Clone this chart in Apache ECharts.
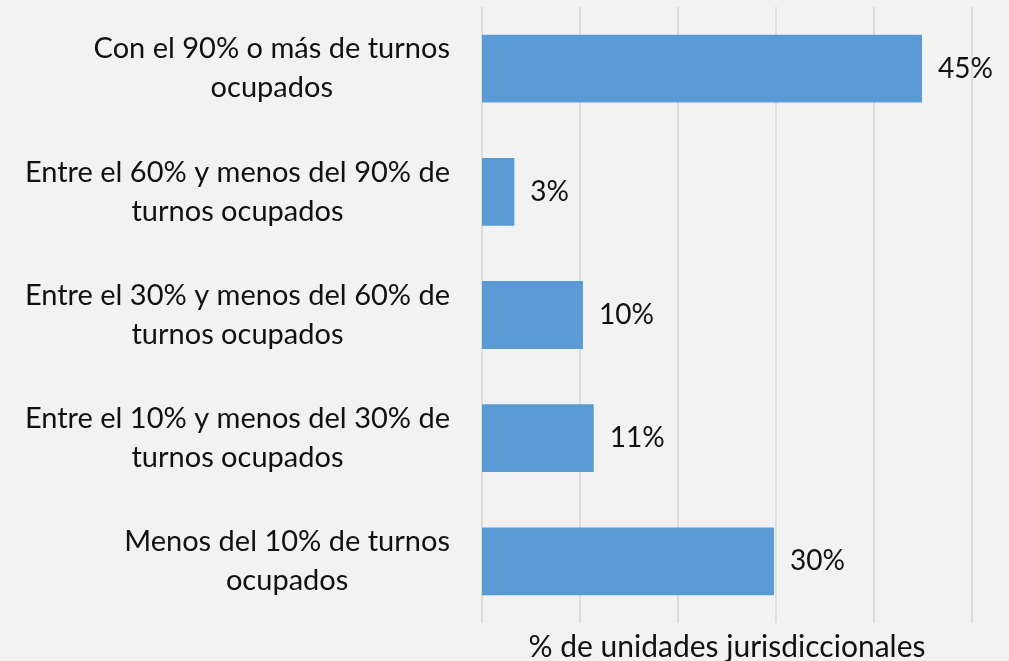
<!DOCTYPE html>
<html>
<head>
<meta charset="utf-8">
<script src="https://cdn.jsdelivr.net/npm/echarts@6/dist/echarts.min.js"></script>
<style>
  html, body { margin: 0; padding: 0; background: #f2f2f2; overflow: hidden; }
  #main { width: 1009px; height: 661px; }
</style>
</head>
<body>
<div id="main"></div>
<script>
// categories, top to bottom
var categories = [
    ['Con el 90% o más de turnos', 'ocupados'],
    ['Entre el 60% y menos del 90% de', 'turnos ocupados'],
    ['Entre el 30% y menos del 60% de', 'turnos ocupados'],
    ['Entre el 10% y menos del 30% de', 'turnos ocupados'],
    ['Menos del 10% de turnos', 'ocupados']
];

// % de unidades jurisdiccionales (bar lengths)
var values = [44.9, 3.3, 10.3, 11.4, 29.8];

var axisName = '% de unidades jurisdiccionales';
var fontFamily = 'Lato';
var textColor = '#111';

var option = {
    backgroundColor: '#f2f2f2',
    animation: false,
    grid: {
        left: 482,
        right: 37,
        top: 7,
        bottom: 38,
        containLabel: false,
        outerBoundsMode: 'none'
    },
    xAxis: {
        type: 'value',
        min: 0,
        max: 50,
        interval: 10,
        name: axisName,
        nameLocation: 'middle',
        nameGap: 9,
        nameTextStyle: {
            color: textColor,
            fontFamily: fontFamily,
            fontSize: 30
        },
        axisLine: { show: false },
        axisTick: { show: false },
        axisLabel: { show: false },
        splitLine: {
            show: true,
            lineStyle: { color: '#d6d6d6', width: 1.5 }
        }
    },
    yAxis: {
        type: 'category',
        inverse: true,
        data: categories.map(function (c) { return c.join('\n'); }),
        axisLine: { show: false },
        axisTick: { show: false },
        splitLine: { show: false },
        axisLabel: {
            margin: 32,
            align: 'right',
            formatter: function (v) {
                return v.split('\n').map(function (s) {
                    return '{a|' + s + '}';
                }).join('\n');
            },
            rich: {
                a: {
                    align: 'center',
                    color: textColor,
                    fontFamily: fontFamily,
                    fontSize: 29,
                    lineHeight: 39
                }
            }
        }
    },
    series: [{
        type: 'bar',
        data: values,
        barCategoryGap: '45%',
        itemStyle: { color: '#5b9bd5' },
        label: {
            show: true,
            position: 'right',
            distance: 16,
            color: textColor,
            fontFamily: fontFamily,
            fontSize: 28,
            formatter: function (p) {
                return Math.round(p.value) + '%';
            }
        }
    }]
};

var myChart = echarts.init(document.getElementById('main'), null, { width: 1009, height: 661 });
myChart.setOption(option);
</script>
</body>
</html>
